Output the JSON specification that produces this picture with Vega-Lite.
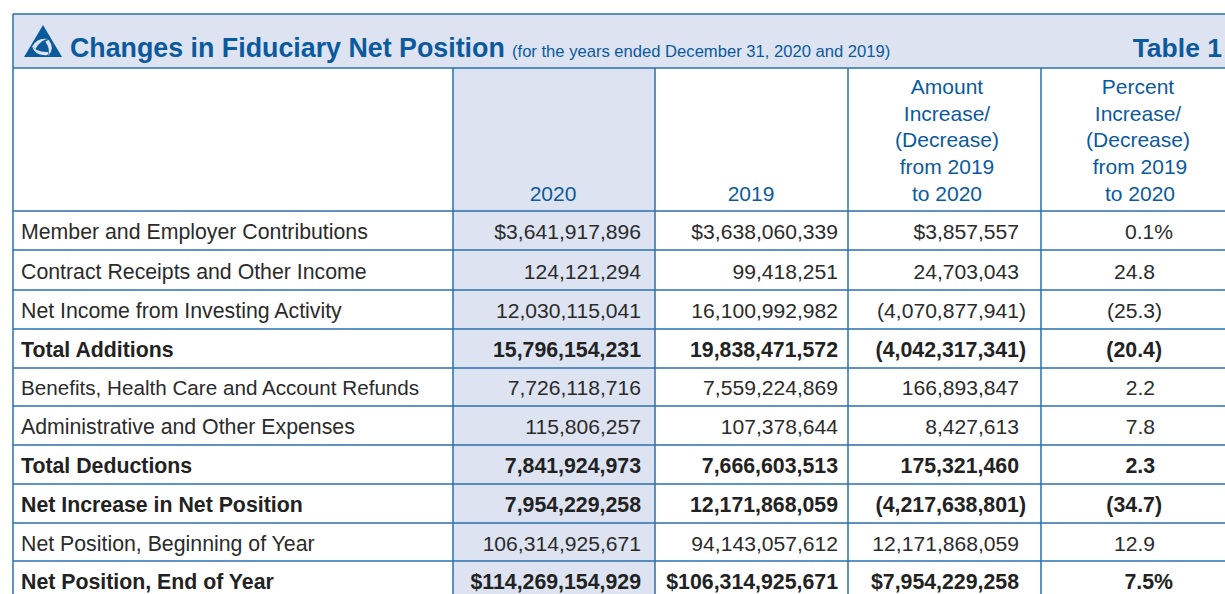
{"$schema":"https://vega.github.io/schema/vega-lite/v6.json","width":1225,"height":594,"autosize":{"type":"fit","contains":"padding"},"padding":0,"background":"white","view":{"stroke":null},
"datasets":{
"bands":[{"x":0,"x2":21,"y":0,"y2":3},{"x":4,"x2":8,"y":3,"y2":29}],
"hlines":[{"x":0,"x2":21,"y":0},{"x":0,"x2":21,"y":3},{"x":0,"x2":21,"y":9},{"x":0,"x2":21,"y":11},{"x":0,"x2":21,"y":13},{"x":0,"x2":21,"y":15},{"x":0,"x2":21,"y":17},{"x":0,"x2":21,"y":19},{"x":0,"x2":21,"y":21},{"x":0,"x2":21,"y":23},{"x":0,"x2":21,"y":25},{"x":0,"x2":21,"y":27}],
"vlines":[{"x":0,"y":0,"y2":29},{"x":4,"y":3,"y2":29},{"x":8,"y":3,"y2":29},{"x":11,"y":3,"y2":29},{"x":15,"y":3,"y2":29}],
"logo":[{"x":2,"y":1}],
"heads":[{"x":6,"y":8,"t":"2020"},{"x":9,"y":8,"t":"2019"},{"x":12,"y":4,"t":"Amount"},{"x":12,"y":5,"t":"Increase/"},{"x":12,"y":6,"t":"(Decrease)"},{"x":12,"y":7,"t":"from 2019"},{"x":12,"y":8,"t":"to 2020"},{"x":15.9,"y":4,"t":"Percent"},{"x":15.9,"y":5,"t":"Increase/"},{"x":15.9,"y":6,"t":"(Decrease)"},{"x":16,"y":7,"t":"from 2019"},{"x":16,"y":8,"t":"to 2020"}],
"labelsR":[{"x":1,"y":10,"t":"Member and Employer Contributions"},{"x":1,"y":12,"t":"Contract Receipts and Other Income"},{"x":1,"y":14,"t":"Net Income from Investing Activity"},{"x":1,"y":20,"t":"Administrative and Other Expenses"},{"x":1,"y":26,"t":"Net Position, Beginning of Year"}],
"labelsTight":[{"x":1,"y":18,"t":"Benefits, Health Care and Account Refunds"}],
"labelsB":[{"x":1,"y":16,"t":"Total Additions"},{"x":1,"y":22,"t":"Total Deductions"},{"x":1,"y":24,"t":"Net Increase in Net Position"},{"x":1,"y":28,"t":"Net Position, End of Year"}],
"valuesR":[
{"x":7,"y":10,"t":"$3,641,917,896"},{"x":10,"y":10,"t":"$3,638,060,339"},{"x":13,"y":10,"t":"$3,857,557"},{"x":19,"y":10,"t":"0.1%"},
{"x":7,"y":12,"t":"124,121,294"},{"x":10,"y":12,"t":"99,418,251"},{"x":13,"y":12,"t":"24,703,043"},{"x":17,"y":12,"t":"24.8"},
{"x":7,"y":14,"t":"12,030,115,041"},{"x":10,"y":14,"t":"16,100,992,982"},{"x":14,"y":14,"t":"(4,070,877,941)"},{"x":18,"y":14,"t":"(25.3)"},
{"x":7,"y":18,"t":"7,726,118,716"},{"x":10,"y":18,"t":"7,559,224,869"},{"x":13,"y":18,"t":"166,893,847"},{"x":17,"y":18,"t":"2.2"},
{"x":7,"y":20,"t":"115,806,257"},{"x":10,"y":20,"t":"107,378,644"},{"x":13,"y":20,"t":"8,427,613"},{"x":17,"y":20,"t":"7.8"},
{"x":7,"y":26,"t":"106,314,925,671"},{"x":10,"y":26,"t":"94,143,057,612"},{"x":13,"y":26,"t":"12,171,868,059"},{"x":17,"y":26,"t":"12.9"}],
"valuesB":[
{"x":7,"y":16,"t":"15,796,154,231"},{"x":10,"y":16,"t":"19,838,471,572"},{"x":14,"y":16,"t":"(4,042,317,341)"},{"x":18,"y":16,"t":"(20.4)"},
{"x":7,"y":22,"t":"7,841,924,973"},{"x":10,"y":22,"t":"7,666,603,513"},{"x":13,"y":22,"t":"175,321,460"},{"x":17,"y":22,"t":"2.3"},
{"x":7,"y":24,"t":"7,954,229,258"},{"x":10,"y":24,"t":"12,171,868,059"},{"x":14,"y":24,"t":"(4,217,638,801)"},{"x":18,"y":24,"t":"(34.7)"},
{"x":7,"y":28,"t":"$114,269,154,929"},{"x":10,"y":28,"t":"$106,314,925,671"},{"x":13,"y":28,"t":"$7,954,229,258"},{"x":19,"y":28,"t":"7.5%"}]
},
"encoding":{
"x":{"field":"x","type":"quantitative","axis":null,"scale":{"domain":[0,1,2,3,4,5,6,7,8,9,10,11,12,13,14,15,15.9,16,17,18,19,20,21],"range":[13,21,43,70,453,512,553,641,655,751,838,848,947,1019,1026,1041,1138,1140,1155,1162,1173,1222,1225],"nice":false,"zero":false}},
"y":{"field":"y","type":"quantitative","axis":null,"scale":{"domain":[0,1,2,3,4,5,6,7,8,9,10,11,12,13,14,15,16,17,18,19,20,21,22,23,24,25,26,27,28,29],"range":[14,41,56.5,68,88,115,141,168,195,211,232.5,250,272.5,290,311.5,329,350.5,368,388.5,406,427.5,445,466.5,484,505.5,523,544.5,561,582.5,594],"nice":false,"zero":false}}
},
"layer":[
{"data":{"name":"bands"},"mark":{"type":"rect","fill":"#dde3f1","stroke":null},"encoding":{"x2":{"field":"x2"},"y2":{"field":"y2"}}},
{"data":{"name":"hlines"},"mark":{"type":"rule","stroke":"#2a70ad","strokeWidth":1.5},"encoding":{"x2":{"field":"x2"}}},
{"data":{"name":"vlines"},"mark":{"type":"rule","stroke":"#2a70ad","strokeWidth":1.5},"encoding":{"y2":{"field":"y2"}}},
{"data":{"name":"logo"},"mark":{"type":"point","filled":true,"fill":"#0b5a9e","opacity":1,"size":1444,"strokeWidth":0,"shape":"M0,-0.84 L1,0.84 L-1,0.84 Z"}},
{"data":{"name":"logo"},"mark":{"type":"point","filled":true,"fill":"#dde3f1","opacity":1,"size":1444,"strokeWidth":0,"shape":"M-0.56,0.28 Q-0.3,-0.22 0.3,-0.1 Q-0.08,-0.1 -0.4,0.42 Z M0.3,-0.06 Q0.66,0.42 0.26,0.8 Q0.42,0.46 0.12,0.02 Z M0.24,0.74 Q-0.42,0.82 -0.6,0.24 Q-0.34,0.62 0.28,0.58 Z"}},
{"data":{"values":[{"x":3,"y":2,"t":"Changes in Fiduciary Net Position"}]},"mark":{"type":"text","font":"Liberation Sans","fontWeight":"bold","fontSize":26.8,"fill":"#0b5a9e","align":"left","baseline":"alphabetic"},"encoding":{"text":{"field":"t"}}},
{"data":{"values":[{"x":5,"y":2,"t":"(for the years ended December 31, 2020 and 2019)"}]},"mark":{"type":"text","font":"Liberation Sans","fontSize":16.6,"fill":"#0b5a9e","align":"left","baseline":"alphabetic"},"encoding":{"text":{"field":"t"}}},
{"data":{"values":[{"x":20,"y":2,"t":"Table 1"}]},"mark":{"type":"text","font":"Liberation Sans","fontWeight":"bold","fontSize":26.5,"fill":"#0b5a9e","align":"right","baseline":"alphabetic"},"encoding":{"text":{"field":"t"}}},
{"data":{"name":"heads"},"mark":{"type":"text","font":"Liberation Sans","fontSize":21,"fill":"#0b5a9e","align":"center","baseline":"middle"},"encoding":{"text":{"field":"t"}}},
{"data":{"name":"labelsR"},"mark":{"type":"text","font":"Liberation Sans","fontSize":21.3,"fill":"#2b2b2b","align":"left","baseline":"middle"},"encoding":{"text":{"field":"t"}}},
{"data":{"name":"labelsTight"},"mark":{"type":"text","font":"Liberation Sans","fontSize":20.65,"fill":"#2b2b2b","align":"left","baseline":"middle"},"encoding":{"text":{"field":"t"}}},
{"data":{"name":"labelsB"},"mark":{"type":"text","font":"Liberation Sans","fontSize":21.3,"fontWeight":"bold","fill":"#222222","align":"left","baseline":"middle"},"encoding":{"text":{"field":"t"}}},
{"data":{"name":"valuesR"},"mark":{"type":"text","font":"Liberation Sans","fontSize":21.1,"fill":"#2b2b2b","align":"right","baseline":"middle"},"encoding":{"text":{"field":"t"}}},
{"data":{"name":"valuesB"},"mark":{"type":"text","font":"Liberation Sans","fontSize":21.3,"fontWeight":"bold","fill":"#222222","align":"right","baseline":"middle"},"encoding":{"text":{"field":"t"}}}
]}
